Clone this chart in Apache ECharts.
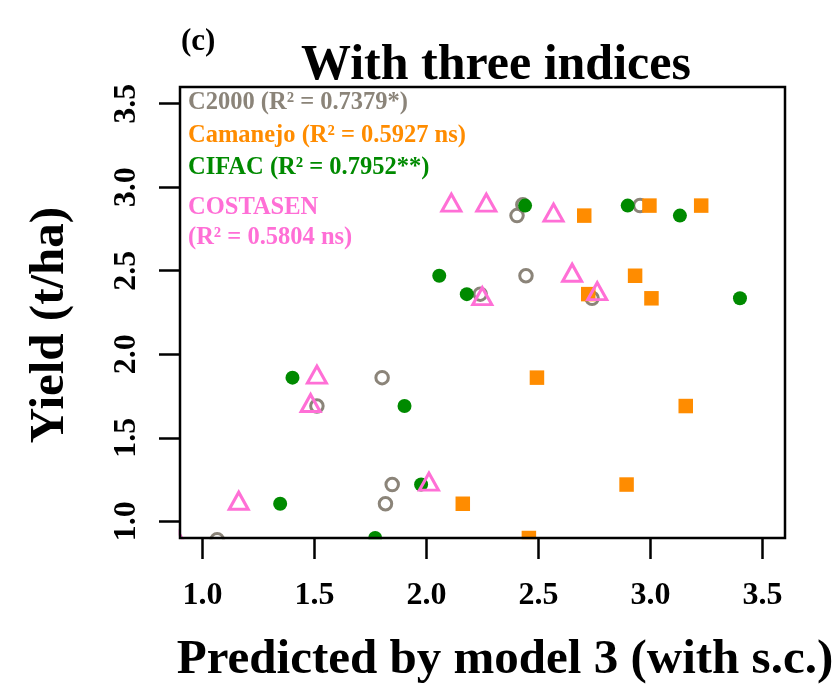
<!DOCTYPE html>
<html>
<head>
<meta charset="utf-8">
<script src="https://cdn.jsdelivr.net/npm/echarts@6/dist/echarts.min.js"></script>
<style>
  html, body { margin: 0; padding: 0; background: #fff; }
  #chart { width: 835px; height: 686px; }
</style>
</head>
<body>
<div id="chart"></div>
<script>
// ---- data ----
const seriesNames = ['C2000', 'Camanejo', 'CIFAC', 'COSTASEN'];
const legendTexts = ['C2000 (R\u00B2 = 0.7379*)', 'Camanejo (R\u00B2 = 0.5927 ns)', 'CIFAC (R\u00B2 = 0.7952**)', 'COSTASEN', '(R\u00B2 = 0.5804 ns)'];
const tickValues = [1.0, 1.5, 2.0, 2.5, 3.0, 3.5];

const c2000Pred = [2.43, 2.953, 2.404, 2.444, 2.240, 2.739, 1.802, 1.511, 1.847, 1.817, 1.066];
const c2000Obs  = [2.895, 2.89, 2.83, 2.47, 2.36, 2.335, 1.86, 1.69, 1.22, 1.105, 0.89];

const camanejoPred = [2.995, 3.226, 2.704, 2.931, 2.722, 3.004, 2.493, 3.157, 2.893, 2.162, 2.457];
const camanejoObs  = [2.89, 2.89, 2.83, 2.47, 2.36, 2.335, 1.86, 1.69, 1.22, 1.105, 0.90];

const cifacPred = [2.440, 2.898, 3.131, 2.057, 2.180, 3.399, 1.402, 1.902, 1.976, 1.347, 1.771];
const cifacObs  = [2.89, 2.89, 2.83, 2.47, 2.36, 2.335, 1.86, 1.69, 1.22, 1.105, 0.90];

const costasenPred = [2.111, 2.267, 2.567, 2.650, 2.762, 2.249, 1.511, 1.483, 2.011, 1.162, 0.885];
const costasenObs  = [2.89, 2.89, 2.83, 2.47, 2.36, 2.33, 1.86, 1.69, 1.22, 1.105, 0.885];

// ---- styles ----
const colors = ['#8b8479', '#ff8c00', '#008a00', '#ff6fd6'];
const FONT = 'Liberation Serif';

function pairs(xs, ys) { return xs.map((x, i) => [x, ys[i]]); }

const chart = echarts.init(document.getElementById('chart'), null, { renderer: 'canvas' });

const axisCommon = {
  type: 'value',
  min: 0.9,
  max: 3.6,
  z: 10,
  axisLine: { show: false },
  splitLine: { show: false },
  axisTick: { show: true, length: 21, customValues: tickValues, lineStyle: { color: '#000', width: 2.5 } },
  axisLabel: {
    customValues: tickValues,
    formatter: v => Number(v).toFixed(1),
    fontFamily: FONT, fontWeight: 'bold', fontSize: 32, color: '#000'
  }
};

const legendY = [103, 136, 168, 208, 238];
const legendColors = [colors[0], colors[1], colors[2], colors[3], colors[3]];

const graphics = [
  // masks emulating clipping to the plot box
  { type: 'rect', z: 5, silent: true, shape: { x: 150, y: 539.3, width: 660, height: 16 }, style: { fill: '#fff' } },
  { type: 'rect', z: 5, silent: true, shape: { x: 150, y: 70, width: 28.7, height: 485 }, style: { fill: '#fff' } },
  { type: 'text', z: 20, x: 181, y: 42, style: { text: '(c)', font: 'bold 31px "' + FONT + '"', fill: '#000', align: 'left', verticalAlign: 'middle' } },
  { type: 'text', z: 20, x: 496, y: 66, style: { text: 'With three indices', font: 'bold 50px "' + FONT + '"', fill: '#000', align: 'center', verticalAlign: 'middle' } },
  { type: 'text', z: 20, x: 505, y: 660, style: { text: 'Predicted by model 3 (with s.c.)', font: 'bold 49px "' + FONT + '"', fill: '#000', align: 'center', verticalAlign: 'middle' } },
  { type: 'text', z: 20, x: 50, y: 325, rotation: Math.PI / 2, style: { text: 'Yield (t/ha)', font: 'bold 49px "' + FONT + '"', fill: '#000', align: 'center', verticalAlign: 'middle' } }
];
legendTexts.forEach((t, i) => {
  graphics.push({ type: 'text', z: 20, x: 188, y: legendY[i], style: { text: t, font: 'bold 24.5px "' + FONT + '"', fill: legendColors[i], align: 'left', verticalAlign: 'middle' } });
});

const option = {
  animation: false,
  backgroundColor: '#fff',
  grid: { left: 180, top: 87, width: 605, height: 451, show: true, z: 10, borderColor: '#000', borderWidth: 2.5, backgroundColor: 'transparent' },
  xAxis: Object.assign({}, axisCommon, {
    axisLabel: Object.assign({}, axisCommon.axisLabel, { margin: 42 })
  }),
  yAxis: Object.assign({}, axisCommon, {
    axisLabel: Object.assign({}, axisCommon.axisLabel, { margin: 37, rotate: 90 })
  }),
  graphic: graphics,
  series: [
    { name: seriesNames[0], type: 'scatter', clip: false, symbol: 'circle', symbolSize: 12.5,
      itemStyle: { color: 'rgba(0,0,0,0)', borderColor: colors[0], borderWidth: 3, opacity: 1 },
      emphasis: { disabled: true }, data: pairs(c2000Pred, c2000Obs) },
    { name: seriesNames[1], type: 'scatter', clip: false, symbol: 'rect', symbolSize: 14.5,
      itemStyle: { color: colors[1], opacity: 1 }, emphasis: { disabled: true }, data: pairs(camanejoPred, camanejoObs) },
    { name: seriesNames[2], type: 'scatter', clip: false, symbol: 'circle', symbolSize: 14,
      itemStyle: { color: colors[2], opacity: 1 }, emphasis: { disabled: true }, data: pairs(cifacPred, cifacObs) },
    { name: seriesNames[3], type: 'scatter', clip: false, symbol: 'triangle', symbolSize: [19, 17], symbolOffset: [0, -3],
      itemStyle: { color: 'rgba(0,0,0,0)', borderColor: colors[3], borderWidth: 3, opacity: 1 },
      emphasis: { disabled: true }, data: pairs(costasenPred, costasenObs) }
  ]
};
chart.setOption(option);
</script>
</body>
</html>
